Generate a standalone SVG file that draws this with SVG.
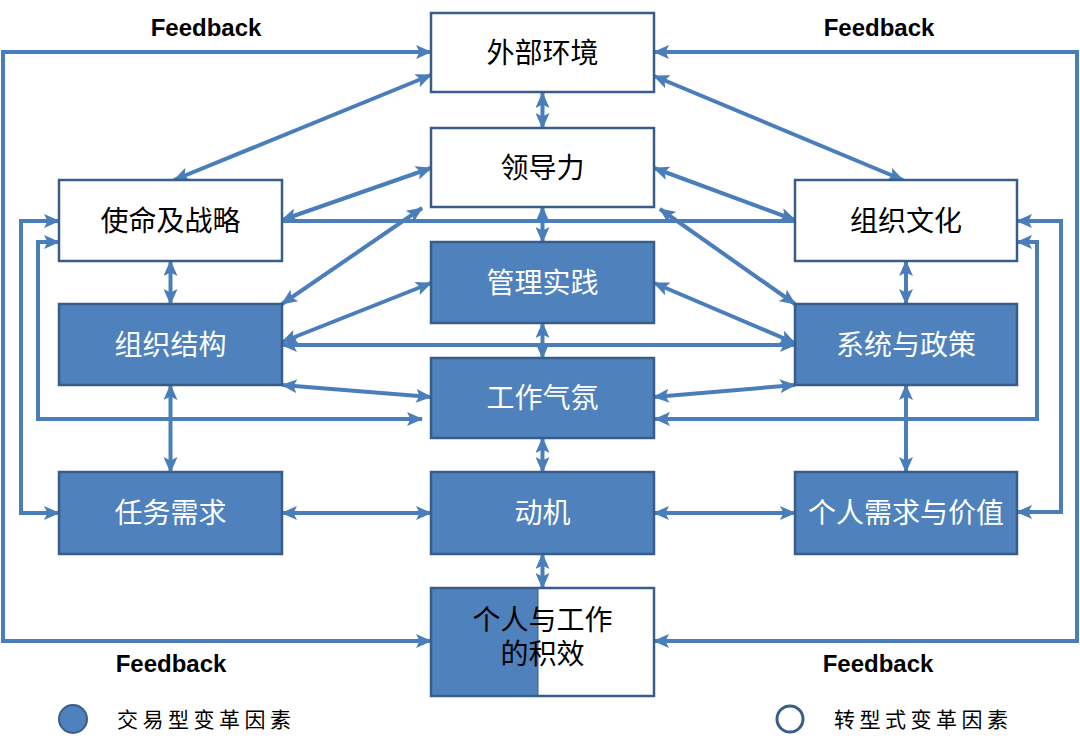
<svg xmlns="http://www.w3.org/2000/svg" width="1080" height="740" viewBox="0 0 1080 740">
<style>
.bx{fill:#4f81bd;stroke:#385d8a;stroke-width:2.5}
.wb{fill:#ffffff;stroke:#385d8a;stroke-width:2.5}
.tw{font-family:"Noto Sans CJK SC","Noto Sans",sans-serif;font-size:28px;fill:#ffffff;text-anchor:middle}
.tb{font-family:"Noto Sans CJK SC","Noto Sans",sans-serif;font-size:28px;fill:#000000;text-anchor:middle}
.fb{font-family:"Liberation Sans",Arial,sans-serif;font-size:24px;font-weight:bold;fill:#000000;text-anchor:middle}
.lg{font-family:"Noto Sans CJK SC","Noto Sans",sans-serif;font-size:21px;fill:#000000;letter-spacing:4.5px}
.c{fill:none;stroke:#4a7ebb;stroke-width:4;marker-end:url(#ah);marker-start:url(#ah)}
.p{fill:none;stroke:#4a7ebb;stroke-width:4}
</style>
<defs>
<marker id="ah" markerUnits="userSpaceOnUse" markerWidth="16" markerHeight="14" refX="15" refY="7" orient="auto-start-reverse" viewBox="0 0 16 14">
<path d="M0,0 L16,7 L0,14 L3.5,7 z" fill="#4a7ebb"/>
</marker>
</defs>
<rect width="1080" height="740" fill="#ffffff"/>

<g id="connectors">
<path class="c" d="M431,52 H3 V641 H431"/>
<path class="c" d="M654,52 H1077 V641 H654"/>
<path class="c" d="M59,242 H38 V419 H422"/>
<path class="c" d="M59,221 H21 V513 H59"/>
<path class="c" d="M1017,242 H1037 V419 H655"/>
<path class="c" d="M1017,221 H1061 V512 H1017"/>
<line class="c" x1="542.5" y1="93" x2="542.5" y2="128"/>
<line class="c" x1="542.5" y1="207" x2="542.5" y2="242"/>
<line class="c" x1="542.5" y1="323" x2="542.5" y2="358"/>
<line class="c" x1="542.5" y1="438" x2="542.5" y2="472"/>
<line class="c" x1="542.5" y1="554" x2="542.5" y2="588"/>
<line class="c" x1="170.5" y1="261" x2="170.5" y2="304"/>
<line class="c" x1="170.5" y1="385" x2="170.5" y2="472"/>
<line class="c" x1="906" y1="261" x2="906" y2="304"/>
<line class="c" x1="906" y1="385" x2="906" y2="472"/>
<line class="c" x1="282" y1="513" x2="431" y2="513"/>
<line class="c" x1="654" y1="513" x2="795" y2="513"/>
<line class="c" x1="431" y1="75" x2="174" y2="180"/>
<line class="c" x1="654" y1="76" x2="903" y2="180"/>
<line class="c" x1="431" y1="168" x2="282" y2="220"/>
<line class="c" x1="654" y1="168" x2="795" y2="220"/>
<line class="p" x1="282" y1="221" x2="795" y2="221"/>
<line class="c" x1="422" y1="208" x2="282" y2="304"/>
<line class="c" x1="660" y1="209" x2="795" y2="304"/>
<line class="c" x1="431" y1="283" x2="282" y2="342"/>
<line class="c" x1="654" y1="283" x2="795" y2="343"/>
<line class="c" x1="282" y1="345" x2="795" y2="345"/>
<line class="c" x1="282" y1="385" x2="431" y2="397"/>
<line class="c" x1="795" y1="385" x2="654" y2="397"/>
</g>

<g id="external">
<rect class="wb" x="431" y="13" width="223" height="79"/>
<text class="tb" x="542.5" y="63">外部环境</text>
</g>
<g id="leadership">
<rect class="wb" x="431" y="128" width="223" height="79"/>
<text class="tb" x="542.5" y="178">领导力</text>
</g>
<g id="management">
<rect class="bx" x="431" y="242" width="223" height="81"/>
<text class="tw" x="542.5" y="293">管理实践</text>
</g>
<g id="climate">
<rect class="bx" x="431" y="358" width="223" height="80"/>
<text class="tw" x="542.5" y="408">工作气氛</text>
</g>
<g id="motivation">
<rect class="bx" x="431" y="472" width="223" height="82"/>
<text class="tw" x="542.5" y="523">动机</text>
</g>
<g id="performance">
<rect x="431" y="588" width="223" height="108" fill="#ffffff"/>
<rect x="431" y="588" width="107" height="108" fill="#4f81bd"/>
<line x1="538" y1="588" x2="538" y2="696" stroke="#385d8a" stroke-width="1"/>
<rect x="431" y="588" width="223" height="108" fill="none" stroke="#385d8a" stroke-width="2.5"/>
<text class="tb" x="542.5" y="630">个人与工作<tspan x="542.5" y="664">的积效</tspan></text>
</g>
<g id="mission">
<rect class="wb" x="59" y="180" width="223" height="81"/>
<text class="tb" x="170.5" y="231">使命及战略</text>
</g>
<g id="structure">
<rect class="bx" x="59" y="304" width="223" height="81"/>
<text class="tw" x="170.5" y="355">组织结构</text>
</g>
<g id="task">
<rect class="bx" x="59" y="472" width="223" height="82"/>
<text class="tw" x="170.5" y="523">任务需求</text>
</g>
<g id="culture">
<rect class="wb" x="795" y="180" width="222" height="81"/>
<text class="tb" x="906" y="231">组织文化</text>
</g>
<g id="systems">
<rect class="bx" x="795" y="304" width="222" height="81"/>
<text class="tw" x="906" y="355">系统与政策</text>
</g>
<g id="needs">
<rect class="bx" x="795" y="472" width="222" height="82"/>
<text class="tw" x="906" y="523">个人需求与价值</text>
</g>

<g id="labels">
<text class="fb" x="206" y="36">Feedback</text>
<text class="fb" x="879" y="36">Feedback</text>
<text class="fb" x="171" y="672">Feedback</text>
<text class="fb" x="878" y="672">Feedback</text>
</g>

<g id="legend">
<circle cx="73" cy="719" r="14" fill="#4f81bd" stroke="#385d8a" stroke-width="2"/>
<text class="lg" x="117" y="727">交易型变革因素</text>
<circle cx="790" cy="719" r="13" fill="#ffffff" stroke="#385d8a" stroke-width="3"/>
<text class="lg" x="834" y="727">转型式变革因素</text>
</g>
</svg>
